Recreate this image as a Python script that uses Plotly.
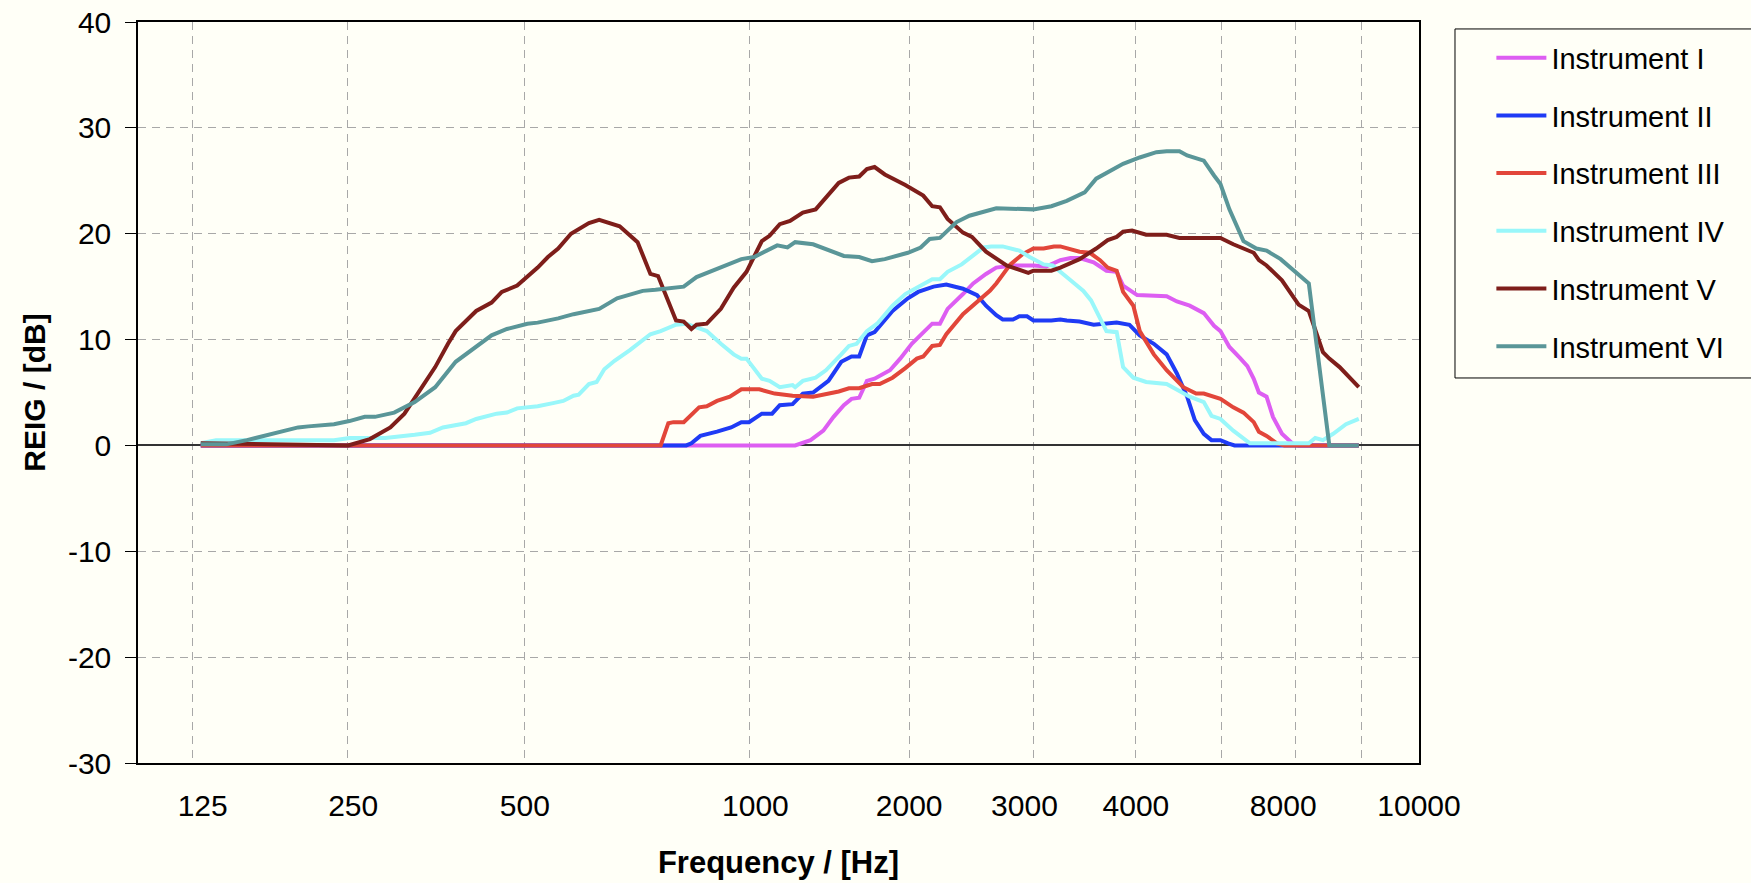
import plotly.graph_objects as go

# Horizontal position on the chart's (non-uniform) frequency axis: 0 = left edge, 100 = right edge
grid_pos = [4.24, 16.39, 30.21, 47.71, 60.21, 69.91, 77.88, 84.59, 90.37, 95.53]
freq_label_pos = [5.05, 16.8, 30.2, 48.2, 60.2, 69.2, 77.9, 89.4, 100.0]
freq_labels = ["125", "250", "500", "1000", "2000", "3000", "4000", "8000", "10000"]
y_ticks = [-30, -20, -10, 0, 10, 20, 30, 40]
y_tick_text = ["-30", "-20", "-10", "0", "10", "20", "30", "40"]

series_names = ["Instrument I", "Instrument II", "Instrument III",
                "Instrument IV", "Instrument V", "Instrument VI"]

# (position, REIG dB)
inst1 = [(4.9, 0), (51.3, 0), (52.5, 0.5), (53.5, 1.4), (54.3, 2.7), (55.1, 3.8), (55.7, 4.4),
         (56.3, 4.5), (56.9, 6.1), (57.5, 6.3), (58.7, 7.1), (59.5, 8.2), (60.4, 9.6), (61.2, 10.6),
         (62.0, 11.5), (62.6, 11.5), (63.2, 12.9), (64.4, 14.3), (65.2, 15.3), (66.2, 16.2),
         (67.0, 16.8), (68.3, 17.0), (69.9, 17.0), (70.9, 16.9), (72.0, 17.5), (72.8, 17.7),
         (73.5, 17.7), (74.6, 17.3), (75.6, 16.5), (76.4, 16.4), (76.9, 15.1), (78.0, 14.2),
         (80.3, 14.1), (81.1, 13.6), (82.1, 13.2), (83.2, 12.5), (84.0, 11.3), (84.5, 10.8),
         (85.2, 9.3), (86.0, 8.3), (86.6, 7.5), (87.1, 6.3), (87.5, 5.0), (88.1, 4.6), (88.6, 2.7),
         (89.3, 1.1), (90.1, 0.2), (90.6, 0), (95.3, 0)]

inst2 = [(4.9, 0), (42.8, 0), (43.2, 0.2), (43.9, 0.9), (45.2, 1.3), (46.3, 1.7), (47.1, 2.2),
         (47.7, 2.2), (48.7, 3.0), (49.5, 3.0), (50.1, 3.8), (51.1, 3.9), (51.9, 4.9), (52.7, 5.0),
         (53.9, 6.1), (54.9, 7.9), (55.7, 8.4), (56.3, 8.4), (56.9, 10.4), (57.5, 10.7), (58.9, 12.7),
         (60.1, 13.9), (60.9, 14.5), (62.1, 15.0), (63.1, 15.2), (64.4, 14.8), (65.5, 14.2),
         (66.2, 13.2), (67.0, 12.3), (67.5, 11.9), (68.3, 11.9), (68.8, 12.2), (69.4, 12.2),
         (69.9, 11.8), (71.3, 11.8), (72.0, 11.9), (72.5, 11.8), (73.5, 11.7), (74.6, 11.4),
         (75.9, 11.5), (76.4, 11.6), (77.4, 11.4), (78.2, 10.4), (79.3, 9.6), (80.3, 8.6),
         (81.1, 6.8), (81.9, 4.6), (82.5, 2.4), (83.2, 1.1), (83.8, 0.5), (84.5, 0.5), (85.1, 0.2),
         (85.6, 0), (95.3, 0)]

inst3 = [(4.9, 0), (40.8, 0), (41.4, 2.1), (41.8, 2.2), (42.6, 2.2), (43.8, 3.6), (44.4, 3.7),
         (45.2, 4.2), (46.2, 4.6), (47.1, 5.3), (48.5, 5.3), (49.7, 4.9), (51.1, 4.7), (52.7, 4.6),
         (54.7, 5.1), (55.5, 5.4), (56.3, 5.4), (57.3, 5.8), (57.9, 5.8), (58.9, 6.4), (59.9, 7.3),
         (60.8, 8.2), (61.3, 8.4), (62.0, 9.4), (62.6, 9.5), (63.1, 10.5), (64.4, 12.4),
         (65.7, 13.7), (66.5, 14.6), (67.0, 15.3), (68.1, 17.1), (69.1, 18.1), (69.9, 18.6),
         (70.7, 18.6), (71.5, 18.8), (72.0, 18.8), (73.5, 18.3), (74.3, 18.2), (75.1, 17.5),
         (75.7, 16.8), (76.4, 16.5), (76.9, 14.5), (77.7, 13.2), (78.2, 10.8), (79.3, 8.6),
         (80.3, 7.1), (81.6, 5.5), (82.6, 4.9), (83.2, 4.9), (84.5, 4.4), (85.5, 3.6), (86.3, 3.1),
         (87.1, 2.2), (87.5, 1.3), (88.1, 0.9), (88.9, 0.2), (89.5, 0), (95.3, 0)]

inst4 = [(4.9, 0.2), (6.1, 0.5), (15.3, 0.5), (16.5, 0.7), (19.3, 0.7), (20.4, 0.8), (21.6, 1.0),
         (22.8, 1.2), (23.8, 1.7), (25.6, 2.1), (26.4, 2.5), (28.0, 3.0), (28.8, 3.1), (29.6, 3.5),
         (31.2, 3.7), (32.4, 4.0), (33.2, 4.2), (34.0, 4.7), (34.4, 4.8), (35.2, 5.8), (35.8, 6.0),
         (36.4, 7.2), (37.2, 8.0), (38.4, 9.0), (39.2, 9.7), (40.0, 10.5), (40.8, 10.8),
         (42.0, 11.4), (42.8, 11.5), (44.4, 10.8), (45.5, 9.6), (46.5, 8.6), (47.1, 8.2),
         (47.5, 8.2), (48.7, 6.3), (49.3, 6.1), (50.1, 5.5), (51.1, 5.7), (51.3, 5.5), (51.9, 6.1),
         (52.9, 6.4), (53.7, 7.1), (54.9, 8.6), (55.5, 9.4), (56.1, 9.6), (56.9, 10.8),
         (57.7, 11.5), (58.9, 13.2), (59.9, 14.3), (61.1, 15.1), (62.0, 15.7), (62.6, 15.7),
         (63.2, 16.4), (64.3, 17.1), (65.1, 17.9), (66.0, 18.7), (66.6, 18.8), (67.5, 18.8),
         (68.8, 18.4), (69.6, 17.8), (70.7, 17.1), (71.4, 17.0), (72.8, 15.6), (73.8, 14.6),
         (74.4, 13.7), (75.1, 12.1), (75.6, 10.8), (76.4, 10.7), (76.9, 7.4), (77.7, 6.4),
         (78.7, 6.0), (80.3, 5.8), (81.1, 5.3), (82.1, 4.6), (83.2, 4.1), (83.8, 2.8), (84.5, 2.5),
         (85.5, 1.4), (86.8, 0.2), (91.4, 0.2), (91.9, 0.7), (92.5, 0.5), (93.3, 1.1), (93.8, 1.6),
         (94.3, 2.0), (95.3, 2.5)]

inst5 = [(4.9, 0.2), (16.4, 0.0), (18.1, 0.6), (19.7, 1.7), (20.8, 3.0), (22.0, 5.2), (23.2, 7.4),
         (24.2, 9.6), (24.8, 10.8), (26.4, 12.7), (27.6, 13.5), (28.4, 14.5), (29.6, 15.1),
         (31.2, 16.8), (32.0, 17.8), (32.8, 18.6), (33.8, 20.0), (35.2, 21.0), (36.0, 21.3),
         (37.6, 20.7), (39.0, 19.2), (40.0, 16.2), (40.6, 16.0), (42.0, 11.8), (42.6, 11.7),
         (43.2, 11.0), (43.6, 11.4), (44.4, 11.5), (45.5, 12.9), (46.5, 14.9), (47.5, 16.4),
         (48.7, 19.3), (49.3, 19.8), (50.1, 20.9), (50.9, 21.2), (51.9, 22.0), (52.9, 22.3),
         (54.7, 24.8), (55.5, 25.3), (56.3, 25.4), (56.9, 26.1), (57.5, 26.3), (58.3, 25.6),
         (59.9, 24.6), (60.8, 23.9), (61.3, 23.6), (62.0, 22.6), (62.6, 22.5), (63.2, 21.4),
         (64.4, 20.1), (65.1, 19.7), (66.2, 18.3), (67.8, 17.0), (69.5, 16.3), (69.9, 16.5),
         (71.3, 16.5), (72.0, 16.8), (73.5, 17.6), (74.8, 18.6), (75.7, 19.4), (76.4, 19.7),
         (76.9, 20.2), (77.6, 20.3), (78.7, 19.9), (80.3, 19.9), (81.3, 19.6), (84.5, 19.6),
         (85.5, 19.0), (87.1, 18.2), (87.5, 17.5), (88.1, 17.0), (89.3, 15.6), (90.6, 13.3),
         (91.4, 12.7), (92.5, 8.8), (93.0, 8.2), (93.8, 7.4), (95.3, 5.5)]

inst6 = [(4.9, 0.1), (6.9, 0.1), (8.5, 0.5), (10.5, 1.1), (12.5, 1.7), (13.3, 1.8), (15.3, 2.0),
         (16.5, 2.3), (17.7, 2.7), (18.5, 2.7), (20.0, 3.1), (21.6, 4.1), (23.2, 5.5), (24.8, 7.9),
         (26.4, 9.3), (27.6, 10.4), (28.8, 11.0), (30.4, 11.5), (31.2, 11.6), (32.8, 12.0),
         (34.0, 12.4), (36.0, 12.9), (37.4, 13.9), (38.2, 14.2), (39.4, 14.6), (40.4, 14.7),
         (41.6, 14.9), (42.6, 15.0), (43.6, 15.9), (44.4, 16.3), (45.5, 16.8), (47.1, 17.6),
         (48.1, 17.8), (48.7, 18.2), (49.9, 18.9), (50.7, 18.7), (51.3, 19.2), (52.7, 19.0),
         (54.3, 18.2), (55.1, 17.9), (56.3, 17.8), (57.3, 17.4), (58.3, 17.6), (60.1, 18.2),
         (61.1, 18.7), (61.8, 19.5), (62.6, 19.6), (63.9, 21.1), (64.9, 21.7), (66.0, 22.1),
         (67.0, 22.4), (69.9, 22.3), (71.3, 22.6), (72.5, 23.1), (73.9, 23.9), (74.8, 25.2),
         (75.7, 25.8), (76.9, 26.6), (78.2, 27.2), (79.5, 27.7), (80.3, 27.8), (81.3, 27.8),
         (81.9, 27.4), (83.2, 26.9), (84.0, 25.5), (84.5, 24.7), (85.2, 22.3), (86.3, 19.3),
         (87.3, 18.6), (88.1, 18.4), (89.2, 17.6), (90.3, 16.5), (91.4, 15.3), (93.0, 0.0),
         (95.3, 0.0)]

series_data = [inst1, inst2, inst3, inst4, inst5, inst6]
colors = ["#DD5EF2", "#1F3BF5", "#E2463A", "#99F7FA", "#7E1E1A", "#5A9698"]

FONT = "Liberation Sans, Arial, Helvetica, sans-serif"
BG = "#FFFFF7"

fig = go.Figure()
for i, (name, pts, col) in enumerate(zip(series_names, series_data, colors)):
    fig.add_trace(go.Scatter(
        x=[p[0] for p in pts], y=[p[1] for p in pts],
        mode="lines", name=name, legendgroup=name,
        line=dict(color=col, width=4),
        # last series lives on the labelled overlay axis (identical scale) so that axis is drawn
        xaxis="x2" if i == len(series_names) - 1 else "x", yaxis="y",
    ))

# legend frame (plot-pixel box converted to paper coordinates)
fig.add_shape(type="rect", xref="paper", yref="paper",
              x0=1.0281, x1=1.27, y0=0.5196, y1=0.9906,
              line=dict(color="black", width=1), fillcolor="rgba(0,0,0,0)", layer="below")

fig.update_layout(
    width=1751, height=883,
    paper_bgcolor=BG, plot_bgcolor=BG,
    margin=dict(l=138, r=332, t=22, b=120, autoexpand=False),
    font=dict(family=FONT, size=30, color="black"),
    showlegend=True,
    legend=dict(
        x=1.0565, y=0.986, xanchor="left", yanchor="top",
        bgcolor="rgba(0,0,0,0)", borderwidth=0,
        font=dict(family=FONT, size=29, color="black"),
        itemwidth=50, tracegroupgap=17,
    ),
    xaxis=dict(
        range=[0, 100], tickvals=grid_pos, showticklabels=False, ticks="",
        showgrid=True, gridcolor="#A8A8A8", gridwidth=1, griddash="8px,6px",
        zeroline=False, showline=True, mirror=True, linecolor="black", linewidth=1.5,
    ),
    xaxis2=dict(
        overlaying="x", anchor="y", side="bottom", range=[0, 100],
        tickvals=freq_label_pos, ticktext=freq_labels, ticks="",
        showgrid=False, zeroline=False, showline=False,
        tickfont=dict(family=FONT, size=30, color="black"),
        ticklabelstandoff=22,
        title=dict(text="<b>Frequency / [Hz]</b>", font=dict(family=FONT, size=31, color="black"),
                   standoff=30),
    ),
    yaxis=dict(
        range=[-30, 40], tickvals=y_ticks, ticktext=y_tick_text,
        ticks="outside", ticklen=11, tickcolor="black", tickwidth=1,
        showgrid=True, gridcolor="#A8A8A8", gridwidth=1, griddash="8px,6px",
        zeroline=True, zerolinecolor="#333333", zerolinewidth=1.5,
        showline=True, mirror=True, linecolor="black", linewidth=1.5,
        tickfont=dict(family=FONT, size=30, color="black"),
        ticklabelstandoff=8,
        title=dict(text="<b>REIG / [dB]</b>", font=dict(family=FONT, size=30, color="black"),
                   standoff=13),
    ),
)

fig.write_html(
    "out.html",
    config={"displayModeBar": False},
    post_script="document.body.style.margin='0';document.body.style.background='#FFFFF7';",
)
